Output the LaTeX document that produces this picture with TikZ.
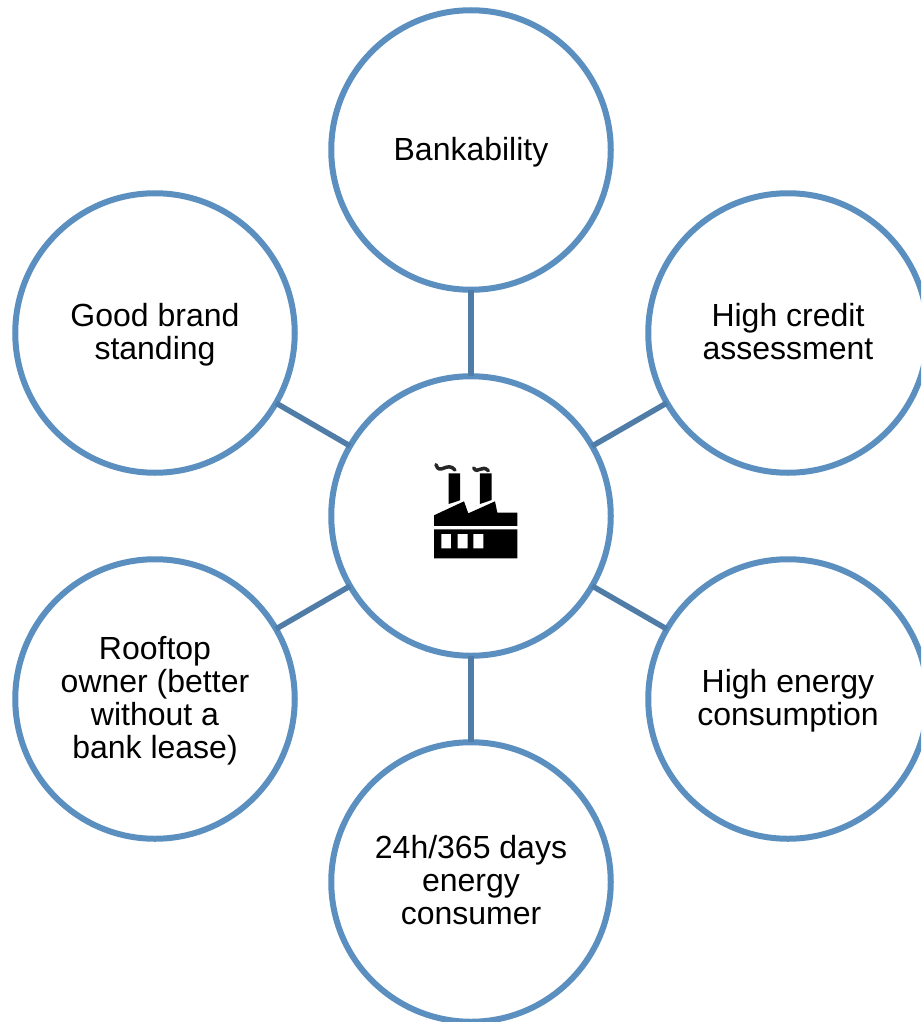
\documentclass[tikz,border=0pt]{standalone}
\usepackage{fontspec}
\setmainfont{Liberation Sans}
\definecolor{ringblue}{HTML}{5B8FC0}
\definecolor{linkblue}{HTML}{4F7DA8}
\tikzset{
  ring/.style={circle,draw=ringblue,line width=6pt,fill=white,minimum size=279.5pt,inner sep=0pt,outer sep=0pt},
  label/.style={align=center,inner sep=0pt,font=\fontsize{32}{33}\selectfont},
  link/.style={draw=linkblue,line width=5.5pt},
  icon/.style={fill=black,draw=none},
  smoke/.style={draw=black!85,line width=3.5pt,line cap=round}
}
\begin{document}
\begin{tikzpicture}[x=1pt,y=-1pt]
\useasboundingbox (0,0) rectangle (921,1022);
\clip (0,0) rectangle (921,1022);
\fill[white] (0,0) rectangle (921,1022);
\node[ring] (center) at (471,516) {};
\node[ring] (top) at (471,150) {};
\node[ring] (topleft) at (155,333) {};
\node[ring] (topright) at (788,333) {};
\node[ring] (botleft) at (155,699) {};
\node[ring] (botright) at (788,699) {};
\node[ring] (bottom) at (471,882) {};
\node[label] (ltop) at (471,152) {Bankability};
\node[label] (ltopleft) at (155,335) {Good brand\\standing};
\node[label] (ltopright) at (788,332) {High credit\\assessment};
\node[label] (lbotleft) at (155,701) {Rooftop\\owner (better\\without a\\bank lease)};
\node[label] (lbotright) at (788,701) {High energy\\consumption};
\node[label] (lbottom) at (471,880) {24h/365 days\\energy\\consumer};
\draw[link] (center) -- (top);
\draw[link] (center) -- (topleft);
\draw[link] (center) -- (topright);
\draw[link] (center) -- (botleft);
\draw[link] (center) -- (botright);
\draw[link] (center) -- (bottom);
\begin{scope}[shift={(400,440)},x=0.3333pt,y=-0.3333pt]
\fill[icon,even odd rule] (102,268) rectangle (352,355)
  (124,282) rectangle (153,325)
  (173,282) rectangle (203,325)
  (220,282) rectangle (250,325);
\fill[icon] (102,258) -- (352,258) -- (352,218) -- (292,218) -- (285,184) -- (205,220) -- (192,184) -- (102,226) -- cycle;
\fill[icon] (146,100) -- (180,100) -- (180,181) -- (146,192) -- cycle;
\fill[icon] (240,100) -- (275,100) -- (275,180) -- (240,192) -- cycle;
\draw[smoke] (108,74) .. controls (118,108) and (142,62) .. (165,90);
\draw[smoke] (221,84) .. controls (233,104) and (245,72) .. (265,92);
\end{scope}
\end{tikzpicture}
\end{document}
